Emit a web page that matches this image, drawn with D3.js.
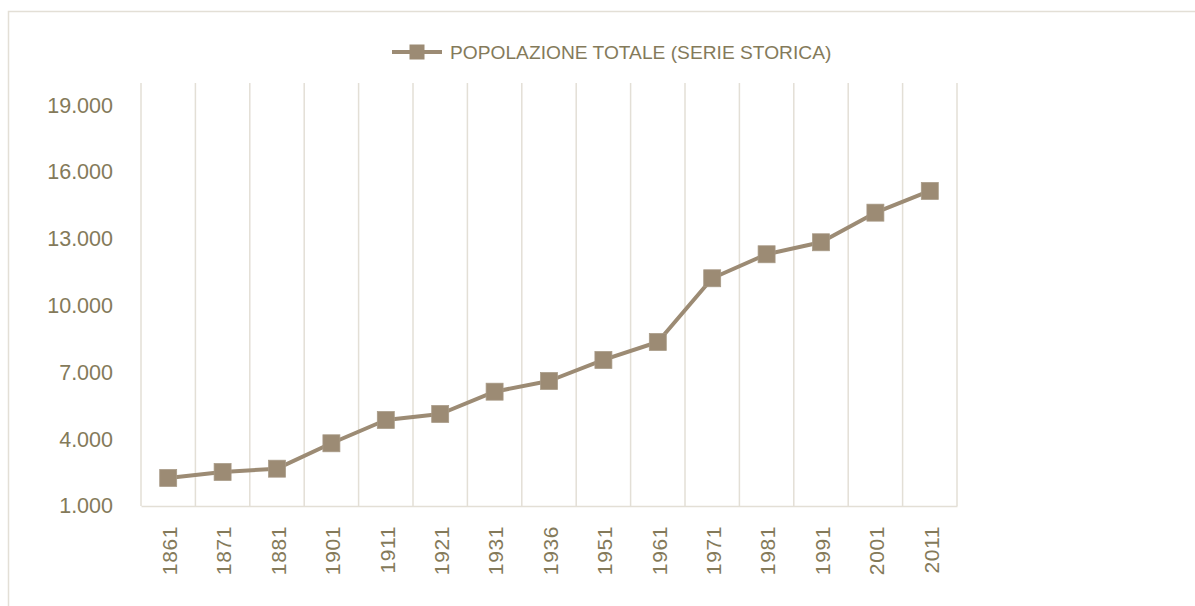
<!DOCTYPE html>
<html>
<head>
<meta charset="utf-8">
<script src="https://cdn.jsdelivr.net/npm/d3@7"></script>
<style>
  body { margin: 0; background: #fff; }
  svg { display: block; font-family: "Liberation Sans", Arial, sans-serif; }
</style>
</head>
<body>
<script>
var width = 1195,
    height = 606;

// data
var years = ["1861", "1871", "1881", "1901", "1911", "1921", "1931", "1936",
             "1951", "1961", "1971", "1981", "1991", "2001", "2011"];
var population = [2260, 2527, 2676, 3817, 4863, 5133, 6135, 6615,
                  7559, 8367, 11229, 12307, 12846, 14176, 15151];
var yTicks = [1000, 4000, 7000, 10000, 13000, 16000, 19000];
var seriesName = "POPOLAZIONE TOTALE (SERIE STORICA)";

var textColor = "#847a5a",
    lineColor = "#9c8b74",
    gridColor = "#e3dfd6";

var margin = { top: 83, right: 238, bottom: 100, left: 141 };
var plotW = width - margin.left - margin.right,
    plotH = height - margin.top - margin.bottom;

var svg = d3.select("body").append("svg")
    .attr("width", width)
    .attr("height", height);

// chart border
svg.append("rect")
    .attr("x", 8.5).attr("y", 11.5)
    .attr("width", width + 20).attr("height", height + 20)
    .attr("fill", "none")
    .attr("stroke", gridColor)
    .attr("stroke-width", 1.5);

var x = d3.scaleBand().domain(years).range([0, plotW]).padding(0);
var y = d3.scaleLinear().domain([1000, 20000]).range([plotH, 0]);

var g = svg.append("g")
    .attr("transform", "translate(" + margin.left + "," + margin.top + ")");

// vertical gridlines at category boundaries
var bounds = years.map(function (d) { return x(d); }).concat([plotW]);
g.append("g").attr("class", "grid")
    .selectAll("line")
    .data(bounds)
    .enter()
    .append("line")
    .attr("x1", function (d) { return d; })
    .attr("x2", function (d) { return d; })
    .attr("y1", 0)
    .attr("y2", plotH)
    .attr("stroke", gridColor)
    .attr("stroke-width", 1.5);

// x axis
var xAxis = g.append("g")
    .attr("transform", "translate(0," + plotH + ")")
    .call(d3.axisBottom(x).tickSize(0).tickPadding(0));
xAxis.select(".domain").attr("stroke", gridColor).attr("stroke-width", 1.5);
xAxis.selectAll("text")
    .attr("fill", textColor)
    .style("font-size", "21px")
    .style("letter-spacing", "0.6px")
    .attr("text-anchor", "end")
    .attr("transform", "rotate(-90)")
    .attr("x", -20)
    .attr("y", 1.5)
    .attr("dy", "0.35em");

// y axis (labels only)
var yAxis = g.append("g")
    .call(d3.axisLeft(y).tickValues(yTicks).tickSize(0).tickPadding(28)
        .tickFormat(function (d) { return d3.format(",")(d).replace(/,/g, "."); }));
yAxis.select(".domain").remove();
yAxis.selectAll("text")
    .attr("fill", textColor)
    .style("font-size", "21.5px");

// line
var line = d3.line()
    .x(function (d, i) { return x(years[i]) + x.bandwidth() / 2; })
    .y(function (d) { return y(d); });

g.append("path")
    .datum(population)
    .attr("d", line)
    .attr("fill", "none")
    .attr("stroke", lineColor)
    .attr("stroke-width", 4)
    .attr("stroke-linejoin", "round");

var ms = 17;
g.append("g").attr("class", "markers")
    .selectAll("rect")
    .data(population)
    .enter()
    .append("rect")
    .attr("x", function (d, i) { return x(years[i]) + x.bandwidth() / 2 - ms / 2; })
    .attr("y", function (d) { return y(d) - ms / 2; })
    .attr("width", ms)
    .attr("height", ms)
    .attr("fill", lineColor)
    .attr("stroke", "#a89a86")
    .attr("stroke-width", 0.75);

// legend
var legend = svg.append("g").attr("transform", "translate(392,52)");
legend.append("line")
    .attr("x1", 0).attr("x2", 50)
    .attr("y1", 0).attr("y2", 0)
    .attr("stroke", lineColor)
    .attr("stroke-width", 4);
legend.append("rect")
    .attr("x", 25 - 7.5).attr("y", -7.5)
    .attr("width", 15).attr("height", 15)
    .attr("fill", lineColor);
legend.append("text")
    .attr("x", 58)
    .attr("y", 7)
    .attr("fill", textColor)
    .style("font-size", "19.2px")
    .text(seriesName);
</script>
</body>
</html>
